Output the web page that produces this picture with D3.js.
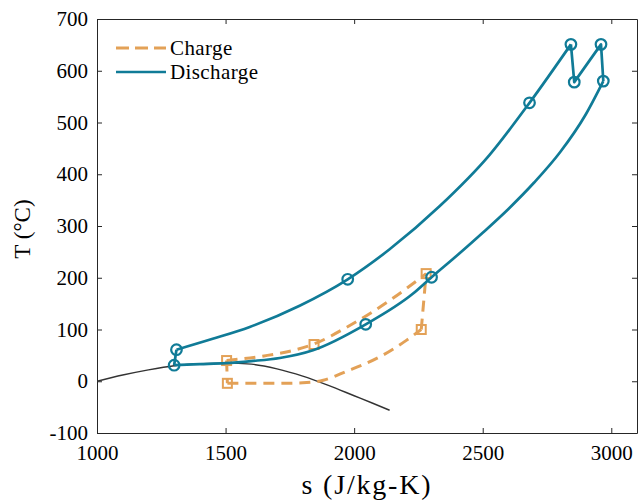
<!DOCTYPE html>
<html><head><meta charset="utf-8">
<script src="https://cdn.jsdelivr.net/npm/d3@7"></script>
<style>
body{margin:0;background:#fff}
svg{display:block}
text{font-family:"Liberation Serif","Times New Roman",serif;fill:#000}
</style>
</head><body>
<svg id="chart" width="638" height="504"></svg>
<script>
// ---- data (s in J/kg-K, T in °C) ----
const xTicks = [1000, 1500, 2000, 2500, 3000];
const yTicks = [-100, 0, 100, 200, 300, 400, 500, 600, 700];
const seriesNames = ["Charge", "Discharge"];

// saturation dome (black)
const domeS = [1000, 1100, 1200, 1300, 1400, 1500, 1600, 1700, 1800, 1900, 2000, 2070, 2138];
const domeT = [0, 12, 22, 30, 34, 35, 33, 24, 10, -8, -28, -42, -56];

// discharge: upper (hot) branch
const dischRiser = [[1300,31],[1309,61]];
const dischUpperCurve = [[1309,61],[1450,82],[1594,105],[1788,146],[1975,197],[2138,255],[2332,338],[2526,437],[2682,538],[2843,651]];
const dischZigzag = [[2843,651],[2856,578],[2960,651],[2969,580]];
// discharge: lower branch
const dischLowerCurve = [[1300,31],[1400,33],[1500,35],[1600,39],[1711,45],[1840,60],[2045,110],[2228,169],[2301,201],[2400,243],[2500,287],[2600,333],[2700,384],[2800,442],[2900,515],[2969,580]];
const dischMarkers = [[1309,61],[1300,31],[1975,197],[2682,538],[2843,651],[2856,578],[2960,651],[2969,580],[2301,201],[2045,110]];

// charge
const chargeLower = [[1507,-4],[1700,-4],[1800,-3],[1880,2],[1970,19],[2099,47],[2203,79],[2261,100]];
const chargeRise = [[2261,100],[2280,208]];
const chargeUpper = [[1504,40],[1650,49],[1750,58],[1844,72],[1970,104],[2138,156],[2280,208]];
const chargeClose = [[1504,40],[1507,-4]];
const chargeMarkers = [[1504,40],[1507,-4],[1844,71],[2261,100],[2280,208]];

// ---- layout ----
const m = {l: 97, t: 19, r: 637, b: 433};
const teal = "#107b97", orange = "#e3a157", axisCol = "#262626";

const svg = d3.select("#chart");
const x = d3.scaleLinear().domain([1000, 3100]).range([m.l, m.r]);
const y = d3.scaleLinear().domain([-100, 700]).range([m.b, m.t]);

// axes
const fmt = d => d < 0 ? "-" + Math.abs(d) : String(d);
const gB = svg.append("g").attr("transform", `translate(0,${m.b})`)
  .call(d3.axisBottom(x).tickValues(xTicks).tickFormat(fmt).tickSizeInner(-5).tickSizeOuter(0).tickPadding(12));
const gL = svg.append("g").attr("transform", `translate(${m.l},0)`)
  .call(d3.axisLeft(y).tickValues(yTicks).tickFormat(fmt).tickSizeInner(-5).tickSizeOuter(0).tickPadding(9));
const gT = svg.append("g").attr("transform", `translate(0,${m.t})`)
  .call(d3.axisTop(x).tickValues(xTicks).tickFormat("").tickSizeInner(-5).tickSizeOuter(0));
const gR = svg.append("g").attr("transform", `translate(${m.r},0)`)
  .call(d3.axisRight(y).tickValues(yTicks).tickFormat("").tickSizeInner(-5).tickSizeOuter(0));
[gB, gL, gT, gR].forEach(g => {
  g.select(".domain").attr("stroke", axisCol).attr("stroke-width", 1);
  g.selectAll(".tick line").attr("stroke", axisCol).attr("stroke-width", 1);
  g.selectAll(".tick text").attr("font-size", 21).attr("font-family", "Liberation Serif, serif").attr("fill", "#262626");
});

// clip
svg.append("clipPath").attr("id", "clip").append("rect")
  .attr("x", m.l).attr("y", m.t).attr("width", m.r - m.l).attr("height", m.b - m.t);
const plot = svg.append("g").attr("clip-path", "url(#clip)");

const curve = d3.line().x(d => x(d[0])).y(d => y(d[1])).curve(d3.curveMonotoneX);
const straight = d3.line().x(d => x(d[0])).y(d => y(d[1]));

// dome
plot.append("path").datum(domeS.map((s, i) => [s, domeT[i]]))
  .attr("d", curve).attr("fill", "none").attr("stroke", "#333").attr("stroke-width", 1.4);

// charge (dashed)
const dash = "11,7";
[[chargeLower, curve], [chargeRise, straight], [chargeUpper, curve], [chargeClose, straight]].forEach(([d, g]) => {
  plot.append("path").datum(d).attr("d", g).attr("fill", "none")
    .attr("stroke", orange).attr("stroke-width", 3).attr("stroke-dasharray", dash);
});
plot.selectAll(".sq").data(chargeMarkers).enter().append("rect")
  .attr("x", d => x(d[0]) - 4.5).attr("y", d => y(d[1]) - 4.5)
  .attr("width", 9).attr("height", 9)
  .attr("fill", "none").attr("stroke", orange).attr("stroke-width", 2);

// discharge
[[dischRiser, straight], [dischUpperCurve, curve], [dischZigzag, straight], [dischLowerCurve, curve]].forEach(([d, g]) => {
  plot.append("path").datum(d).attr("d", g).attr("fill", "none")
    .attr("stroke", teal).attr("stroke-width", 2.7).attr("stroke-linejoin", "round");
});
plot.selectAll(".ci").data(dischMarkers).enter().append("circle")
  .attr("cx", d => x(d[0])).attr("cy", d => y(d[1])).attr("r", 5.3)
  .attr("fill", "none").attr("stroke", teal).attr("stroke-width", 2.2);

// legend
const leg = svg.append("g");
const legY = [48, 72];
leg.append("line").attr("x1", 116).attr("x2", 166).attr("y1", legY[0]).attr("y2", legY[0])
  .attr("stroke", orange).attr("stroke-width", 3).attr("stroke-dasharray", "13,6");
leg.append("line").attr("x1", 116).attr("x2", 166).attr("y1", legY[1]).attr("y2", legY[1])
  .attr("stroke", teal).attr("stroke-width", 2.7);
seriesNames.forEach((n, i) => {
  leg.append("text").attr("x", 170).attr("y", legY[i]).attr("dy", "0.34em")
    .attr("font-size", 21).attr("letter-spacing", 0.4).text(n);
});

// axis labels
svg.append("text").attr("x", 367).attr("y", 494).attr("text-anchor", "middle")
  .attr("font-size", 28).attr("letter-spacing", 1.8).text("s (J/kg-K)");
svg.append("text").attr("transform", "translate(30,229) rotate(-90)").attr("text-anchor", "middle")
  .attr("font-size", 23).text("T (°C)");
</script>
</body></html>
